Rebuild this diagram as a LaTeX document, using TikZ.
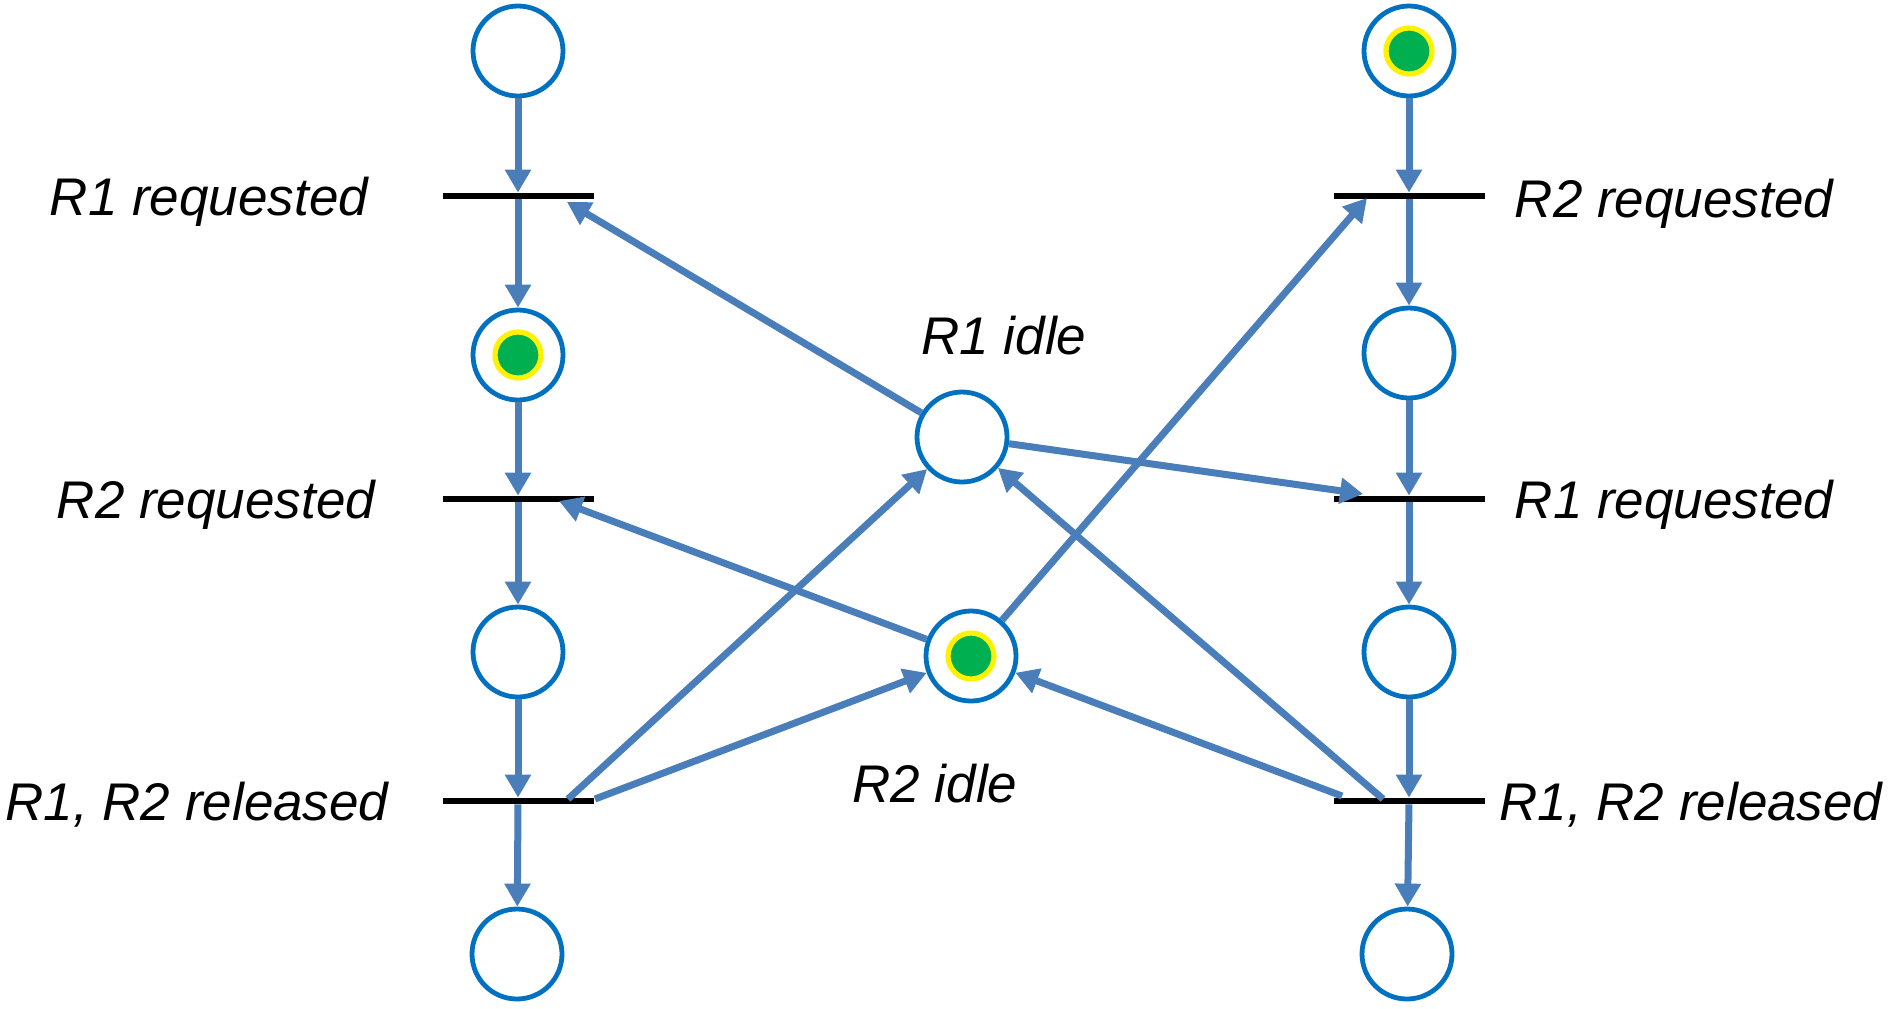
\documentclass[tikz,border=0pt]{standalone}
\usepackage{fontspec}
\setmainfont{Liberation Sans}
\usetikzlibrary{arrows.meta}

\definecolor{placeblue}{HTML}{0070C0}
\definecolor{arcblue}{HTML}{4A7EBB}
\definecolor{tokengreen}{HTML}{00B050}

\begin{document}
\begin{tikzpicture}[x=0.5pt, y=-0.5pt]
        \tikzstyle{place}=[draw=placeblue, circle, fill=white,
            line width=2.4pt, minimum size=45pt, inner sep=0pt]
        \tikzstyle{trans}=[fill=black, rectangle,
            minimum width=75.5pt, minimum height=3pt, inner sep=0pt]
        \tikzstyle{token}=[draw=yellow, fill=tokengreen, circle,
            line width=2.6pt, minimum size=23pt, inner sep=0pt]
        \tikzstyle{arc}=[draw=arcblue, line width=3.5pt,
            -{Triangle[width=12.5pt, length=11.5pt]}]
        \tikzstyle{tag}=[font=\fontsize{26.5}{30}\selectfont\itshape,
            anchor=base, inner sep=0pt]

        \useasboundingbox (0, 0) rectangle (1893, 1008);

        % left process
        \node[place] (l0) at (518, 51) {};
        \node[trans] (lt1) at (518, 196) {};
        \node[place] (l1) at (518, 355) {};
        \node[trans] (lt2) at (518, 499) {};
        \node[place] (l2) at (518, 652) {};
        \node[trans] (lt3) at (518, 801) {};
        \node[place] (l3) at (517, 954) {};

        % right process
        \node[place] (r0) at (1409, 51) {};
        \node[trans] (rt1) at (1409, 196) {};
        \node[place] (r1) at (1409, 353) {};
        \node[trans] (rt2) at (1409, 499) {};
        \node[place] (r2) at (1409, 652) {};
        \node[trans] (rt3) at (1409, 801) {};
        \node[place] (r3) at (1407, 954) {};

        % resources
        \node[place] (idle1) at (962, 437) {};
        \node[place] (idle2) at (971, 656) {};

        % tokens
        \node[token] at (l1) {};
        \node[token] at (r0) {};
        \node[token] at (idle2) {};

        % labels
        \node[tag] (n1) at (209, 215) {R1 requested};
        \node[tag] (n2) at (216, 518) {R2 requested};
        \node[tag] (n3) at (197, 820) {R1, R2 released};
        \node[tag] (n4) at (1674, 217) {R2 requested};
        \node[tag] (n5) at (1674, 518) {R1 requested};
        \node[tag] (n6) at (1691, 820) {R1, R2 released};
        \node[tag] (n7) at (1004, 354) {R1 idle};
        \node[tag] (n8) at (935, 802) {R2 idle};

        % ends of the arcs on the bars
        \coordinate (lt1in) at (567, 202);
        \coordinate (lt2in) at (559, 501);
        \coordinate (rt1in) at (1367, 198);
        \coordinate (rt2in) at (1363, 494);
        \coordinate (lt3a) at (568, 799);
        \coordinate (lt3b) at (595, 799);
        \coordinate (rt3a) at (1342, 796);
        \coordinate (rt3b) at (1383, 799);

        \draw[arc] (l0) to (lt1);
        \draw[arc] (lt1) to (l1);
        \draw[arc] (l1) to (lt2);
        \draw[arc] (lt2) to (l2);
        \draw[arc] (l2) to (lt3);
        \draw[arc] (lt3) to (l3);

        \draw[arc] (r0) to (rt1);
        \draw[arc] (rt1) to (r1);
        \draw[arc] (r1) to (rt2);
        \draw[arc] (rt2) to (r2);
        \draw[arc] (r2) to (rt3);
        \draw[arc] (rt3) to (r3);

        \draw[arc] (idle1) to (lt1in);
        \draw[arc] (idle1) to (rt2in);
        \draw[arc] (idle2) to (lt2in);
        \draw[arc] (idle2) to (rt1in);
        \draw[arc] (lt3a) to (idle1);
        \draw[arc] (lt3b) to (idle2);
        \draw[arc] (rt3a) to (idle2);
        \draw[arc] (rt3b) to (idle1);
    \end{tikzpicture}
\end{document}
